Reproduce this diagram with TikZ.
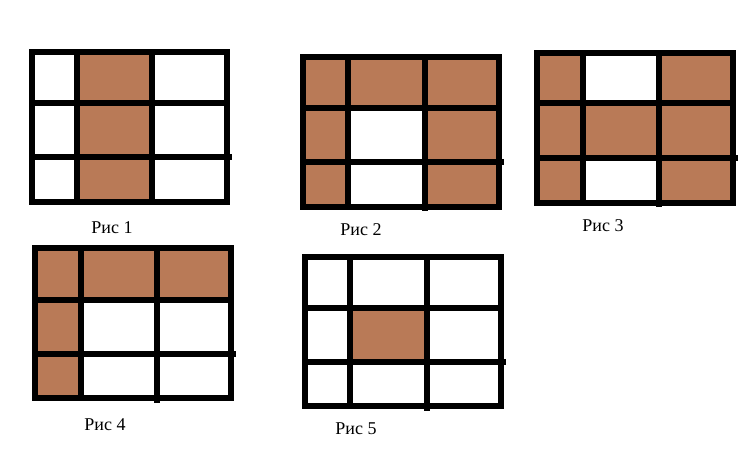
\documentclass[tikz,border=0pt]{standalone}
\usepackage{fontspec}
\setmainfont{Liberation Serif}
\definecolor{brick}{RGB}{185,122,87}
\begin{document}
\begin{tikzpicture}[x=1pt,y=-1pt]
    \tikzstyle{cell}=[fill=brick]
    \tikzstyle{grid}=[line width=5.5pt, line cap=rect]
    \tikzstyle{caption}=[font=\fontsize{18}{20}\selectfont, inner sep=0pt]
    \useasboundingbox[fill=white] (0,0) rectangle (751,457);

    % Рис 1
    \fill[cell] (77,52) rectangle (152,202);
    \draw[grid] (32,52) rectangle (227,202);
    \draw[grid] (77,52) -- (77,202)  (152,52) -- (152,202)
                (32,103) -- (227,103) (32,157) -- (229,157);
    \node[caption] (cap1) at (112,228) {Рис 1};

    % Рис 2
    \fill[cell] (303,57) rectangle (499,207);
    \fill[white] (348,108) rectangle (425,207);
    \draw[grid] (303,57) rectangle (499,207);
    \draw[grid] (348,57) -- (348,207)  (425,57) -- (425,208)
                (303,108) -- (499,108) (303,162) -- (501,162);
    \node[caption] (cap2) at (361,230) {Рис 2};

    % Рис 3
    \fill[cell] (537,53) rectangle (733,203);
    \fill[white] (583,53) rectangle (659,103)
                 (583,158) rectangle (659,203);
    \draw[grid] (537,53) rectangle (733,203);
    \draw[grid] (583,53) -- (583,203)  (659,53) -- (659,204)
                (537,103) -- (733,103) (537,158) -- (735,158);
    \node[caption] (cap3) at (603,226) {Рис 3};

    % Рис 4
    \fill[cell] (35,248) rectangle (231,300)
                (35,300) rectangle (81,398);
    \draw[grid] (35,248) rectangle (231,398);
    \draw[grid] (81,248) -- (81,398)  (157,248) -- (157,400)
                (35,300) -- (231,300) (35,354) -- (233,354);
    \node[caption] (cap4) at (105,425) {Рис 4};

    % Рис 5
    \fill[cell] (350,308) rectangle (427,362);
    \draw[grid] (305,257) rectangle (501,406);
    \draw[grid] (350,257) -- (350,406)  (427,257) -- (427,408)
                (305,308) -- (501,308) (305,362) -- (503,362);
    \node[caption] (cap5) at (356,429) {Рис 5};

\end{tikzpicture}
\end{document}
